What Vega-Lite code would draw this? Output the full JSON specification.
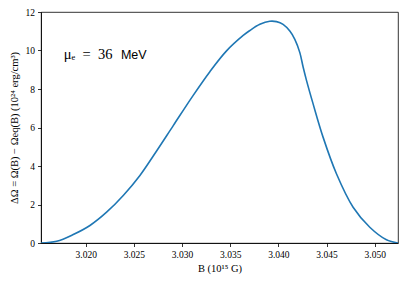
{
  "$schema": "https://vega.github.io/schema/vega-lite/v6.json",
  "width": 357,
  "height": 231,
  "autosize": {"type": "none"},
  "padding": {"left": 41, "top": 12, "right": 8, "bottom": 41},
  "background": "white",
  "config": {
    "view": {"stroke": "black", "strokeWidth": 0.8},
    "axis": {
      "grid": false,
      "domainColor": "black",
      "domainWidth": 0.8,
      "tickColor": "black",
      "tickWidth": 0.8,
      "tickSize": 3.5,
      "labelFont": "Liberation Serif",
      "labelFontSize": 9.5,
      "labelColor": "black",
      "labelPadding": 3,
      "labelOverlap": false,
      "titleFont": "Liberation Serif",
      "titleFontSize": 10.5,
      "titleFontWeight": "normal",
      "titleColor": "black"
    }
  },
  "encoding": {
    "x": {
      "type": "quantitative",
      "scale": {"domain": [3.01536, 3.05242], "nice": false, "zero": false},
      "axis": {"values": [3.02, 3.025, 3.03, 3.035, 3.04, 3.045, 3.05], "format": ".3f", "title": "B (10¹⁵ G)", "titlePadding": 4}
    },
    "y": {
      "type": "quantitative",
      "scale": {"domain": [0, 12], "nice": false},
      "axis": {"values": [0, 2, 4, 6, 8, 10, 12], "title": "ΔΩ = Ω(B) − Ωeq(B) (10²⁴ erg/cm³)", "titlePadding": 6}
    }
  },
  "layer": [
    {
      "data": {
        "values": [
          {"B": 3.01536, "dO": 0.0},
          {"B": 3.01699, "dO": 0.09},
          {"B": 3.01871, "dO": 0.44},
          {"B": 3.02044, "dO": 0.91},
          {"B": 3.02217, "dO": 1.6},
          {"B": 3.0239, "dO": 2.47},
          {"B": 3.02563, "dO": 3.51},
          {"B": 3.02736, "dO": 4.78},
          {"B": 3.02909, "dO": 6.1},
          {"B": 3.03116, "dO": 7.67},
          {"B": 3.03289, "dO": 8.9},
          {"B": 3.03462, "dO": 9.98},
          {"B": 3.03635, "dO": 10.78},
          {"B": 3.03704, "dO": 11.04},
          {"B": 3.03808, "dO": 11.36},
          {"B": 3.03911, "dO": 11.52},
          {"B": 3.03981, "dO": 11.5},
          {"B": 3.04049, "dO": 11.36},
          {"B": 3.04119, "dO": 11.01},
          {"B": 3.04171, "dO": 10.58},
          {"B": 3.04223, "dO": 9.89},
          {"B": 3.04257, "dO": 9.14},
          {"B": 3.04292, "dO": 8.45},
          {"B": 3.0436, "dO": 7.24},
          {"B": 3.04464, "dO": 5.5},
          {"B": 3.04603, "dO": 3.6},
          {"B": 3.04776, "dO": 1.86},
          {"B": 3.04949, "dO": 0.82},
          {"B": 3.05122, "dO": 0.17},
          {"B": 3.05242, "dO": 0.0}
        ]
      },
      "mark": {"type": "line", "color": "#1f77b4", "strokeWidth": 1.6, "interpolate": "catmull-rom", "clip": true},
      "encoding": {
        "x": {"field": "B"},
        "y": {"field": "dO"}
      }
    },
    {
      "data": {"values": [{"label": "μₑ\u2002=\u200236", "B": 3.01772, "v": 9.54}]},
      "mark": {"type": "text", "align": "left", "baseline": "alphabetic", "font": "Liberation Serif", "fontSize": 14.5, "color": "black"},
      "encoding": {
        "text": {"field": "label"},
        "x": {"field": "B"},
        "y": {"field": "v"}
      }
    },
    {
      "data": {"values": [{"label": "MeV", "B": 3.02366, "v": 9.54}]},
      "mark": {"type": "text", "align": "left", "baseline": "alphabetic", "font": "Liberation Sans", "fontSize": 12.5, "color": "black"},
      "encoding": {
        "text": {"field": "label"},
        "x": {"field": "B"},
        "y": {"field": "v"}
      }
    }
  ]
}
